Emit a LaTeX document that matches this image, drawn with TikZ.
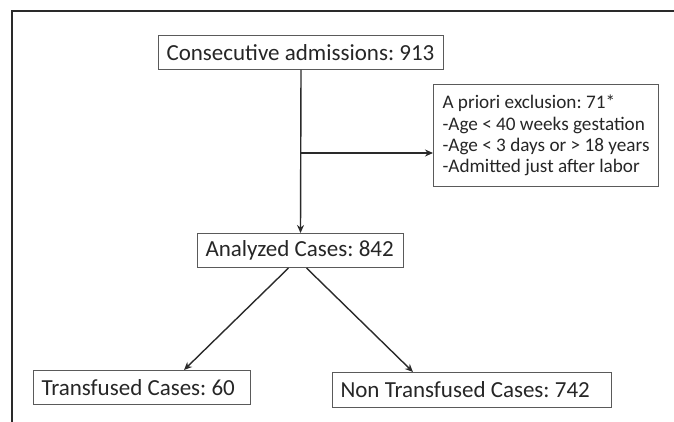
\documentclass[tikz,border=0pt]{standalone}
\usepackage{fontspec}
\setmainfont{Carlito}
\frenchspacing
\usetikzlibrary{arrows.meta}
\definecolor{linec}{HTML}{2A2A2A}
\definecolor{boxc}{HTML}{5A5A5A}
\definecolor{textc}{HTML}{262626}
\newcommand{\lbox}[2]{\makebox[#1][l]{#2}}
\tikzset{
  box/.style={draw=boxc, line width=1pt, rectangle, anchor=north west, inner xsep=8pt, inner ysep=0pt,
    text=textc, font=\fontsize{23}{25}\selectfont\frenchspacing},
  smallbox/.style={box, inner xsep=6pt, align=left, font=\fontsize{19.2}{21.3}\selectfont\frenchspacing},
  arr/.style={draw=linec, line width=1.4pt, -{Stealth[length=8pt,width=7pt]}},
  frame/.style={draw=linec, line width=2pt}
}
\begin{document}
\begin{tikzpicture}[x=1pt,y=-1pt]
\useasboundingbox (0,0) rectangle (674,422);
% outer frame (only top and left visible)
\coordinate (ftl) at (11.5,11.5);
\coordinate (ftr) at (676,11.5);
\coordinate (fbl) at (11.5,424);
\draw[frame] (ftr) -- (ftl) -- (fbl);
% boxes
\node[box, minimum width=285pt, minimum height=34pt] (cons) at (158,35) {\lbox{269pt}{Consecutive admissions: 913}};
\node[box, minimum width=206pt, minimum height=34pt] (ana) at (197,233) {\lbox{190pt}{Analyzed Cases: 842}};
\node[smallbox, minimum width=225pt, minimum height=102pt] (excl) at (433,84) {A priori exclusion: 71*\\-Age < 40 weeks gestation\\-Age < 3 days or > 18 years\\-Admitted just after labor};
\node[box, minimum width=217pt, minimum height=34pt] (tr) at (33,370) {\lbox{201pt}{Transfused Cases: 60}};
\node[box, minimum width=279pt, minimum height=35pt] (ntr) at (332,372) {\lbox{263pt}{Non Transfused Cases: 742}};
% connectors
\draw[arr] (cons.south) -- (ana.north);
\coordinate (j) at (cons.south |- 0,153);
\draw[arr] (j) -- (j -| excl.west);
\draw[arr] ([xshift=-12pt]ana.south) -- ([xshift=42pt]tr.north);
\draw[arr] ([xshift=6pt]ana.south) -- ([xshift=-59pt]ntr.north);
\end{tikzpicture}
\end{document}
